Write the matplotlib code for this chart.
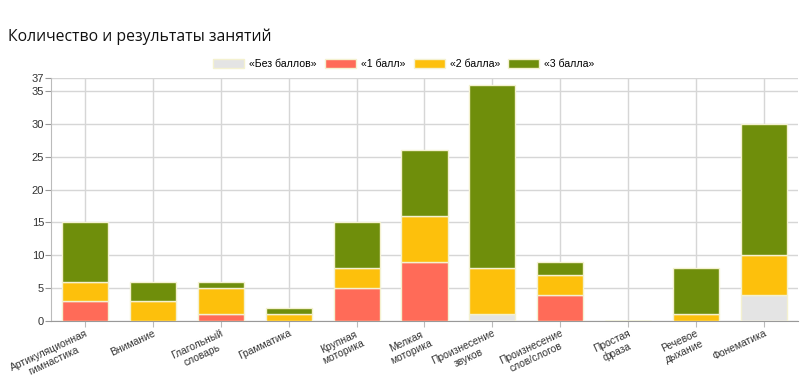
import matplotlib.pyplot as plt
import matplotlib.transforms as mtransforms
import numpy as np

categories = ["Артикуляционная\nгимнастика", "Внимание", "Глагольный\nсловарь",
              "Грамматика", "Крупная\nмоторика", "Мелкая\nмоторика",
              "Произнесение\nзвуков", "Произнесение\nслов/слогов", "Простая\nфраза",
              "Речевое\nдыхание", "Фонематика"]
series_names = ["«Без баллов»", "«1 балл»", "«2 балла»", "«3 балла»"]
no_score = [0, 0, 0, 0, 0, 0, 1, 0, 0, 0, 4]
score_1 = [3, 0, 1, 0, 5, 9, 0, 4, 0, 0, 0]
score_2 = [3, 3, 4, 1, 3, 7, 7, 3, 0, 1, 6]
score_3 = [9, 3, 1, 1, 7, 10, 28, 2, 0, 7, 20]
y_ticks = [0, 5, 10, 15, 20, 25, 30, 35, 37]

colors = ["#e4e4e4", "#ff6b58", "#fdc00c", "#6f8e0b"]

plt.rcParams['font.family'] = ['Liberation Sans', 'DejaVu Sans']

fig = plt.figure(figsize=(8, 3.81), dpi=100, facecolor='white')
ax = fig.add_axes([51/800, 60/381, 747/800, 243/381])

x = np.arange(len(categories))
bottom = np.zeros(len(categories))
for name, vals, c in zip(series_names, [no_score, score_1, score_2, score_3], colors):
    vals = np.array(vals, dtype=float)
    ax.bar(x, vals, 0.68, bottom=bottom, color=c, edgecolor='#f4f1d0',
           linewidth=1.0, label=name, zorder=3)
    bottom += vals

ax.set_xlim(-0.5, len(categories) - 0.5)
ax.set_ylim(0, 37)
ax.set_yticks(y_ticks)
ax.set_xticks(x)
ax.set_xticklabels(categories, rotation=25, ha='right', rotation_mode='anchor',
                   multialignment='center', fontsize=7.4)
# nudge labels a little to the right, like the original
shift = mtransforms.ScaledTranslation(7/100, 0, fig.dpi_scale_trans)
for lab in ax.get_xticklabels():
    lab.set_transform(lab.get_transform() + shift)
ax.tick_params(axis='y', labelsize=8, color='#999999', labelcolor='#333333',
               length=4, width=0.8, pad=1)
ax.tick_params(axis='x', length=4, width=0.8, color='#bbbbbb',
               labelcolor='#333333', pad=1)

ax.grid(True, color='#d6d6d6', linewidth=1, zorder=0)
ax.set_axisbelow(True)
for s in ['top', 'right']:
    ax.spines[s].set_visible(False)
ax.spines['left'].set_color('#bbbbbb')
ax.spines['bottom'].set_color('#999999')

fig.text(8/800, 1 - 37/381, "Количество и результаты занятий", fontsize=11.3,
         family=['Open Sans', 'DejaVu Sans'], color='#111111', va='center')

fig.legend(loc='center', bbox_to_anchor=(0.505, 1 - 64/381), ncol=4, frameon=False,
           fontsize=7.6, handlelength=2.9, handleheight=0.9, columnspacing=0.8,
           handletextpad=0.5)

plt.savefig("out.png", dpi=100, facecolor='white')
